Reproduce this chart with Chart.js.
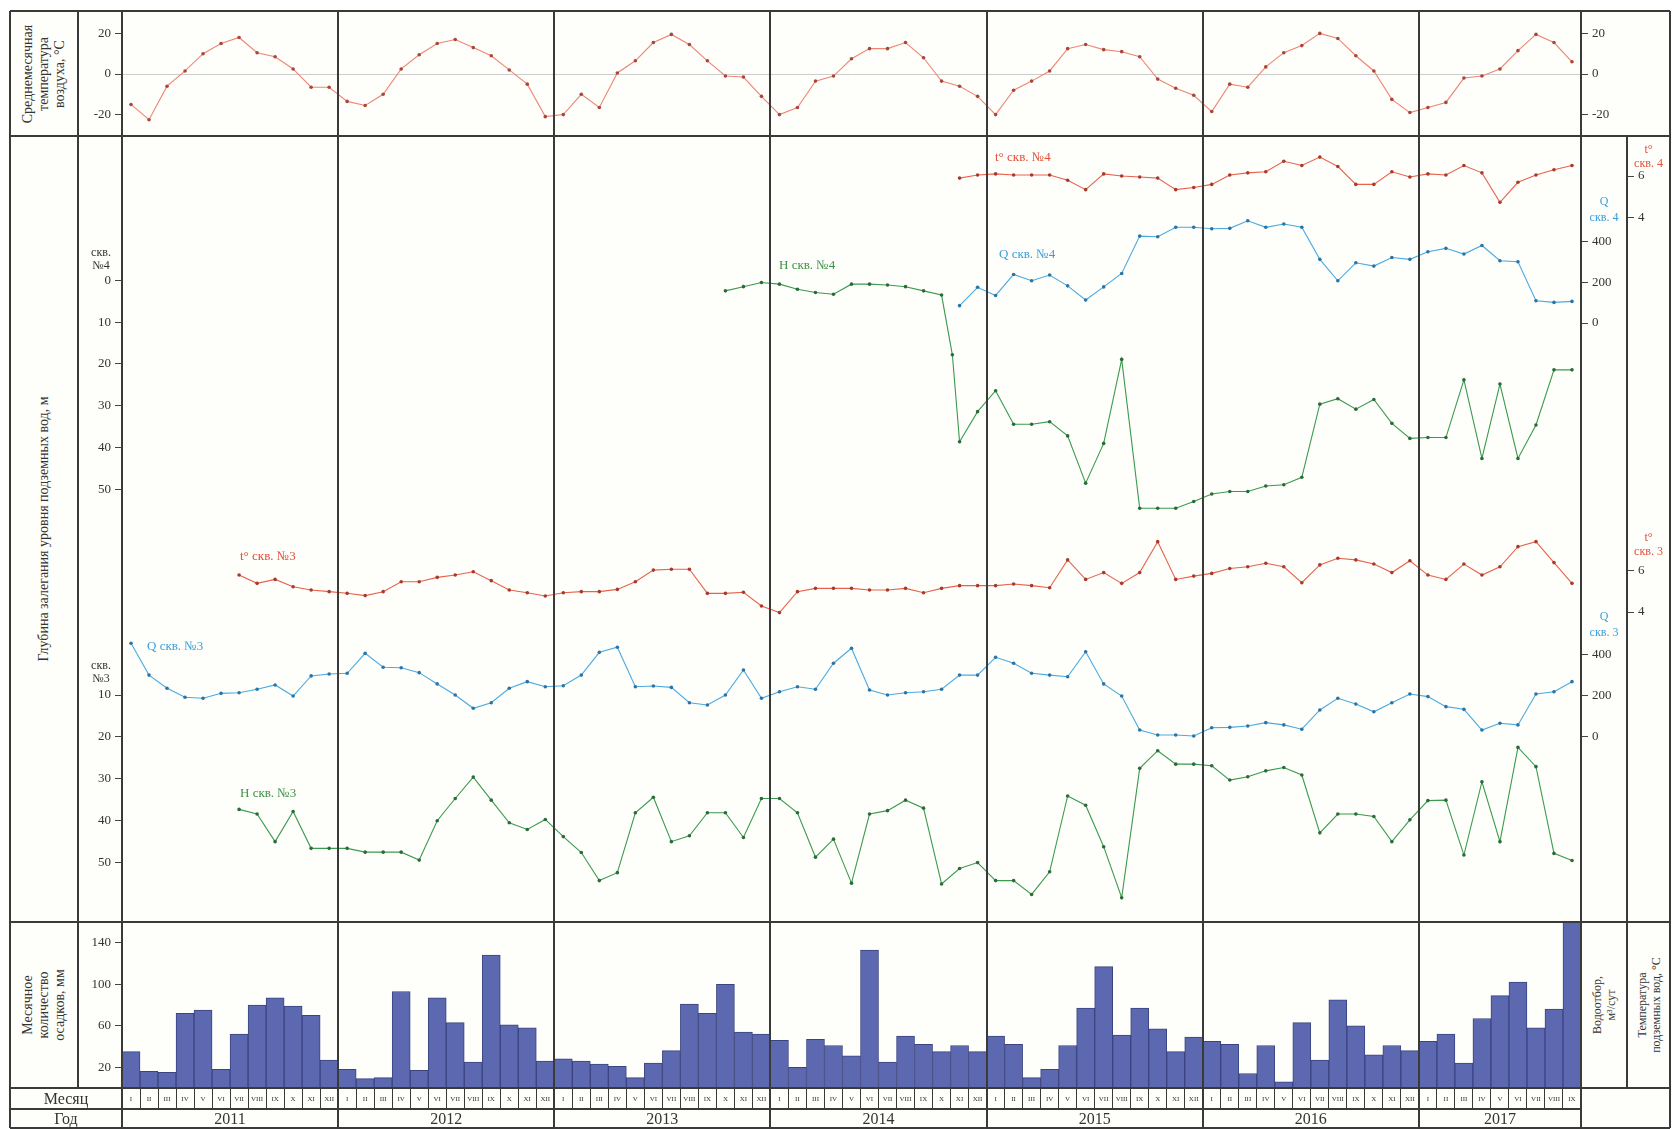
<!DOCTYPE html>
<html lang="ru">
<head>
<meta charset="utf-8">
<title>Режим подземных вод, скв. №3 и №4</title>
<script src="https://cdn.jsdelivr.net/npm/chart.js@4.4.1/dist/chart.umd.min.js"></script>
<style>
  html, body { margin: 0; padding: 0; }
  body { width: 1672px; height: 1129px; position: relative; overflow: hidden; background: #fff;
         font-family: "Liberation Serif", "DejaVu Serif", serif; color: #333; }
  #sheet { position: absolute; left: 10px; top: 11px; width: 1660px; height: 1117px; background: #fefefa; }
  canvas { position: absolute; z-index: 2; }
  .ln { position: absolute; background: #3a3a3a; z-index: 5; }
  .txt { position: absolute; white-space: nowrap; z-index: 6; line-height: 1; }
  .rot { position: absolute; white-space: nowrap; text-align: center; z-index: 6;
         transform: translate(-50%, -50%) rotate(-90deg); }
  .cell { position: absolute; display: flex; align-items: center; justify-content: center; z-index: 6; }
</style>
</head>
<body>
<div id="sheet"></div>
<canvas id="airChart" width="1592" height="125" style="left:78px;top:11px"></canvas>
<canvas id="well4Chart" width="1592" height="389" style="left:78px;top:136px"></canvas>
<canvas id="well3Chart" width="1592" height="397" style="left:78px;top:525px"></canvas>
<canvas id="precipChart" width="1503" height="166" style="left:78px;top:922px"></canvas>
<script>
/* ==========================================================================
   Monthly series 2011-01 .. 2017-09 (81 months), month index 0 = Jan 2011
   ========================================================================== */

const years = ["2011", "2012", "2013", "2014", "2015", "2016", "2017"];
const monthNames = ["I", "II", "III", "IV", "V", "VI", "VII", "VIII", "IX", "X", "XI", "XII"];

// mean monthly air temperature, °C
const airTemp = [
  -15, -22.5, -6, 1.5, 10, 15, 18, 10.5, 8.5, 2.5, -6.5, -6.5,
  -13.5, -15.5, -10, 2.5, 9.5, 15, 17, 13, 9, 2, -5, -21,
  -20, -10, -16.5, 0.5, 6.5, 15.5, 19.5, 14.5, 6.5, -1, -1.5, -11,
  -20, -16.5, -3.5, -1, 7.5, 12.5, 12.5, 15.5, 8, -3.5, -6, -11,
  -20, -8, -3.5, 1.5, 12.5, 14.5, 12, 11, 8.5, -2.5, -7, -10.5,
  -18.5, -5, -6.5, 3.5, 10.5, 14, 20, 17.5, 9, 1.5, -12.5, -19,
  -16.5, -14, -2, -1, 2.5, 11.5, 19.5, 15.5, 6,
];

// monthly precipitation, mm
const precip = [
  35, 16, 15, 72, 75, 18, 52, 80, 87, 79, 70, 27,
  18, 9, 10, 93, 17, 87, 63, 25, 128, 61, 58, 26,
  28, 26, 23, 21, 10, 24, 36, 81, 72, 100, 54, 52,
  46, 20, 47, 41, 31, 133, 25, 50, 42, 35, 41, 35,
  50, 42, 10, 18, 41, 77, 117, 51, 77, 57, 35, 49,
  45, 42, 14, 41, 6, 63, 27, 85, 60, 32, 41, 36,
  45, 52, 24, 67, 89, 102, 58, 76, 160,
];

// well No 4
const t4Start = 46;
const t4 = [5.9, 6.05, 6.1, 6.05, 6.05, 6.05, 5.8, 5.35, 6.1, 6.0, 5.95, 5.9, 5.35, 5.45, 5.6, 6.05, 6.15, 6.2,
  6.7, 6.5, 6.9, 6.45, 5.6, 5.6, 6.2, 5.95, 6.1, 6.05, 6.5, 6.15, 4.75, 5.7, 6.05, 6.3, 6.5];
const q4Start = 46;
const q4 = [85, 175, 135, 238, 207, 235, 182, 113, 177, 243, 426, 423, 469, 469, 462, 464, 501, 469,
  485, 469, 312, 207, 295, 279, 321, 312, 349, 366, 338, 380, 305, 300, 109, 101, 106];
const h4Start = 33;
const h4Before = [2.5, 1.5, 0.5, 0.9, 2.1, 2.9, 3.3, 0.9, 0.9, 1.1, 1.5, 2.5, 3.5];
const h4DropMonth = 45.6;
const h4DropDepth = 17.8;
const h4AfterStart = 46;
const h4After = [38.6, 31.4, 26.4, 34.4, 34.4, 33.8, 37.2, 48.5, 39, 18.9, 54.5, 54.5, 54.5, 52.9, 51.1,
  50.5, 50.5, 49.2, 48.9, 47.1, 29.6, 28.3, 30.8, 28.5, 34.2, 37.8, 37.6, 37.6, 23.8, 42.6, 24.8, 42.6,
  34.6, 21.4, 21.4];

// well No 3
const t3Start = 6;
const t3 = [5.78, 5.38, 5.57, 5.22, 5.06, 4.98, 4.9, 4.79, 4.98, 5.46, 5.46, 5.67, 5.78, 5.94, 5.51, 5.06,
  4.93, 4.77, 4.93, 4.98, 4.98, 5.09, 5.46, 6.02, 6.06, 6.06, 4.9, 4.9, 4.95, 4.29, 3.97, 4.98, 5.14, 5.14,
  5.14, 5.06, 5.06, 5.14, 4.93, 5.14, 5.27, 5.27, 5.27, 5.35, 5.27, 5.17, 6.51, 5.57, 5.9, 5.38, 5.9, 7.39,
  5.57, 5.73, 5.86, 6.1, 6.18, 6.35, 6.18, 5.41, 6.27, 6.59, 6.51, 6.31, 5.9, 6.47, 5.78, 5.57, 6.31, 5.78,
  6.18, 7.15, 7.39, 6.38, 5.38];
const q3Start = 0;
const q3 = [456, 301, 237, 193, 188, 212, 215, 232, 253, 199, 297, 306, 310, 407, 339, 337, 313, 258, 204,
  139, 166, 237, 269, 244, 249, 301, 412, 437, 244, 248, 241, 166, 155, 204, 326, 188, 220, 244, 232, 359,
  432, 228, 204, 215, 220, 232, 301, 301, 388, 359, 310, 301, 293, 415, 258, 199, 33, 9, 9, 4, 44, 46, 53,
  69, 58, 37, 131, 188, 160, 122, 166, 209, 196, 147, 134, 33, 66, 58, 209, 220, 269];
const h3Start = 6;
const h3 = [37.3, 38.4, 45, 37.8, 46.6, 46.6, 46.6, 47.5, 47.5, 47.5, 49.4, 40, 34.7, 29.6, 35.1, 40.5, 42.1,
  39.7, 43.8, 47.6, 54.3, 52.4, 38.1, 34.4, 45, 43.6, 38.1, 38.1, 44, 34.7, 34.7, 38.1, 48.7, 44.4, 54.9,
  38.4, 37.6, 35.1, 37, 55.1, 51.4, 50, 54.3, 54.3, 57.6, 52.2, 34.1, 36.3, 46.2, 58.4, 27.5, 23.3, 26.5,
  26.5, 26.9, 30.3, 29.5, 28.1, 27.3, 29.1, 42.9, 38.4, 38.4, 39, 45, 39.8, 35.2, 35.1, 48.2, 30.7, 45,
  22.5, 27.1, 47.8, 49.5];

// tick labels
const airTicks = [-20, 0, 20];
const depth4Ticks = [0, 10, 20, 30, 40, 50];
const depth3Ticks = [10, 20, 30, 40, 50];
const flowTicks = [0, 200, 400];
const waterTempTicks = [4, 6];
const precipTicks = [20, 60, 100, 140];

/* ---------------- sheet geometry ---------------- */
const X0 = 10, XL = 78, XP = 122, XR = 1581, XC = 1627, X1 = 1670;
const Y0 = 11, YT = 136, YS = 525, YM = 922, YB = 1088, YMO = 1109, Y1 = 1128;
const MONTHS = airTemp.length;
const MW = (XR - XP) / MONTHS;

const RED = "#e8634e", RED_DOT = "#a83a2c", RED_TEXT = "#e0513c";
const BLUE = "#4aabe0", BLUE_DOT = "#2b74a6", BLUE_TEXT = "#3a9fdc";
const GREEN = "#3b9a4f", GREEN_DOT = "#2a6b39", GREEN_TEXT = "#3a9448";
const SERIF = "'Liberation Serif', 'DejaVu Serif', serif";

Chart.defaults.font.family = SERIF;
Chart.defaults.font.size = 13;
Chart.defaults.color = "#333";
Chart.defaults.animation = false;
Chart.defaults.plugins.legend.display = false;
Chart.defaults.plugins.tooltip.enabled = false;

// axis range so that `value` lands at page pixel `at`, with `ppu` pixels per unit
function rangeFor(top, h, value, at, ppu, reversed) {
  if (reversed) {
    const min = value - (at - top) / ppu;
    return { min, max: min + h / ppu };
  }
  const max = value + (at - top) / ppu;
  return { min: max - h / ppu, max };
}

function yAxis(opts) {
  return {
    type: "linear",
    position: opts.position,
    min: opts.range.min,
    max: opts.range.max,
    reverse: !!opts.reverse,
    weight: opts.weight || 0,
    afterBuildTicks: (s) => { s.ticks = opts.ticks.map((v) => ({ value: v })); },
    afterFit: (s) => { s.width = opts.width; s.paddingTop = 0; s.paddingBottom = 0; },
    grid: {
      drawOnChartArea: !!opts.zeroLine,
      color: (ctx) => (opts.zeroLine && ctx.tick && ctx.tick.value === 0 ? "#cdcdcd" : "rgba(0,0,0,0)"),
      tickColor: "#444",
      tickLength: 7,
      lineWidth: 1,
    },
    border: { display: false },
    ticks: { padding: 4, color: "#333", font: { size: 13 }, callback: (v) => String(v) },
  };
}

const monthAxis = { type: "linear", min: -0.5, max: MONTHS - 0.5, display: false };

function series(start, values) {
  return values.map((v, i) => ({ x: start + i, y: v }));
}

function lineSet(points, axisId, line, dot) {
  return {
    data: points, yAxisID: axisId, borderColor: line, borderWidth: 1.1,
    pointRadius: 1.8, pointBackgroundColor: dot, pointBorderWidth: 0, tension: 0,
  };
}

const baseOptions = {
  responsive: false,
  devicePixelRatio: 1,
  layout: { padding: 0, autoPadding: false },
};

/* ---------------- air temperature ---------------- */
new Chart(document.getElementById("airChart"), {
  type: "line",
  data: { datasets: [lineSet(series(0, airTemp), "air", "#ee8675", "#a8463a")] },
  options: {
    ...baseOptions,
    scales: {
      x: monthAxis,
      air: yAxis({ position: "left", range: rangeFor(Y0, YT - Y0, 0, 74, 2.03), ticks: airTicks, width: XP - XL, zeroLine: true }),
      airR: yAxis({ position: "right", range: rangeFor(Y0, YT - Y0, 0, 74, 2.03), ticks: airTicks, width: X1 - XR }),
    },
  },
});

/* ---------------- well No 4 ---------------- */
const h4Points = series(h4Start, h4Before)
  .concat([{ x: h4DropMonth, y: h4DropDepth }])
  .concat(series(h4AfterStart, h4After));

new Chart(document.getElementById("well4Chart"), {
  type: "line",
  data: {
    datasets: [
      lineSet(series(t4Start, t4), "t4", RED, RED_DOT),
      lineSet(series(q4Start, q4), "q4", BLUE, BLUE_DOT),
      lineSet(h4Points, "h4", GREEN, GREEN_DOT),
    ],
  },
  options: {
    ...baseOptions,
    scales: {
      x: monthAxis,
      h4: yAxis({ position: "left", range: rangeFor(YT, YS - YT, 0, 280.4, 4.18, true), reverse: true, ticks: depth4Ticks, width: XP - XL }),
      q4: yAxis({ position: "right", range: rangeFor(YT, YS - YT, 0, 323, 0.204), ticks: flowTicks, width: XC - XR, weight: 0 }),
      t4: yAxis({ position: "right", range: rangeFor(YT, YS - YT, 6, 176, 21), ticks: waterTempTicks, width: X1 - XC, weight: 1 }),
    },
  },
});

/* ---------------- well No 3 ---------------- */
new Chart(document.getElementById("well3Chart"), {
  type: "line",
  data: {
    datasets: [
      lineSet(series(t3Start, t3), "t3", RED, RED_DOT),
      lineSet(series(q3Start, q3), "q3", BLUE, BLUE_DOT),
      lineSet(series(h3Start, h3), "h3", GREEN, GREEN_DOT),
    ],
  },
  options: {
    ...baseOptions,
    scales: {
      x: monthAxis,
      h3: yAxis({ position: "left", range: rangeFor(YS, YM - YS, 0, 653.1, 4.19, true), reverse: true, ticks: depth3Ticks, width: XP - XL }),
      q3: yAxis({ position: "right", range: rangeFor(YS, YM - YS, 0, 736.8, 0.205), ticks: flowTicks, width: XC - XR, weight: 0 }),
      t3: yAxis({ position: "right", range: rangeFor(YS, YM - YS, 6, 570.5, 20.75), ticks: waterTempTicks, width: X1 - XC, weight: 1 }),
    },
  },
});

/* ---------------- precipitation ---------------- */
const monthCats = precip.map((_, i) => monthNames[i % 12] + " " + years[Math.floor(i / 12)]);
new Chart(document.getElementById("precipChart"), {
  type: "bar",
  data: {
    labels: monthCats,
    datasets: [{
      data: precip, yAxisID: "p", backgroundColor: "#5c68b0", borderColor: "#3b4480", borderWidth: 1,
      barPercentage: 1, categoryPercentage: 1,
    }],
  },
  options: {
    ...baseOptions,
    scales: {
      x: { type: "category", display: false, offset: true },
      p: yAxis({ position: "left", range: { min: 0, max: (YB - YM) / 1.0375 }, ticks: precipTicks, width: XP - XL }),
    },
  },
});

/* ---------------- frame, table cells and captions ---------------- */
function line(x, y, w, h) {
  const d = document.createElement("div");
  d.className = "ln";
  Object.assign(d.style, { left: x + "px", top: y + "px", width: w + "px", height: h + "px" });
  document.body.appendChild(d);
}
const hLine = (y, xa, xb, t = 2) => line(xa, y - t / 2, xb - xa, t);
const vLine = (x, ya, yb, t = 2) => line(x - t / 2, ya, t, yb - ya);

[Y0, YT, YM, YB, Y1].forEach((y) => hLine(y, X0, X1));
hLine(YMO, X0, XR);
vLine(X0, Y0, Y1); vLine(X1, Y0, Y1);
vLine(XL, Y0, YB); vLine(XP, Y0, Y1); vLine(XR, Y0, Y1); vLine(XC, YT, YB);
for (let k = 1; k < years.length; k++) vLine(XP + 12 * k * MW, Y0, Y1, 2);
for (let i = 1; i < MONTHS; i++) if (i % 12) vLine(XP + i * MW, YB, YMO, 1);

function text(x, y, html, opts = {}) {
  const d = document.createElement("div");
  d.className = "txt";
  d.innerHTML = html;
  Object.assign(d.style, { left: x + "px", top: y + "px", fontSize: (opts.size || 13) + "px", color: opts.color || "#333" });
  if (opts.center) d.style.transform = "translate(-50%, -50%)";
  if (opts.align) { d.style.textAlign = opts.align; d.style.lineHeight = (opts.lh || 14) + "px"; }
  document.body.appendChild(d);
}
function rotated(cx, cy, lines, size, lh) {
  const d = document.createElement("div");
  d.className = "rot";
  d.innerHTML = lines.join("<br>");
  Object.assign(d.style, { left: cx + "px", top: cy + "px", fontSize: size + "px", lineHeight: lh + "px" });
  document.body.appendChild(d);
}
function cell(x, y, w, h, html, size) {
  const d = document.createElement("div");
  d.className = "cell";
  d.innerHTML = html;
  Object.assign(d.style, { left: x + "px", top: y + "px", width: w + "px", height: h + "px", fontSize: size + "px" });
  document.body.appendChild(d);
}

// left column captions
rotated((X0 + XL) / 2, (Y0 + YT) / 2, ["Среднемесячная", "температура", "воздуха, °С"], 14, 16);
rotated((X0 + XL) / 2, (YT + YM) / 2, ["Глубина залегания уровня подземных вод, м"], 14, 16);
rotated((X0 + XL) / 2, (YM + YB) / 2, ["Месячное", "количество", "осадков, мм"], 14, 16);

// right column captions
rotated((XR + XC) / 2, (YM + YB) / 2, ["Водоотбор,", "м³/сут"], 12, 14);
rotated((XC + X1) / 2, (YM + YB) / 2, ["Температура", "подземных вод, °С"], 12, 14);

// well names on the depth axis
text(101, 259, "скв.<br>№4", { size: 12, center: true, align: "center", lh: 13 });
text(101, 672, "скв.<br>№3", { size: 12, center: true, align: "center", lh: 13 });

// right axis captions
text((XC + X1) / 2, 156, "t°<br>скв. 4", { size: 12, center: true, align: "center", color: RED_TEXT, lh: 14 });
text((XR + XC) / 2, 209, "Q<br>скв. 4", { size: 12, center: true, align: "center", color: BLUE_TEXT, lh: 16 });
text((XC + X1) / 2, 544, "t°<br>скв. 3", { size: 12, center: true, align: "center", color: RED_TEXT, lh: 14 });
text((XR + XC) / 2, 624, "Q<br>скв. 3", { size: 12, center: true, align: "center", color: BLUE_TEXT, lh: 16 });

// series captions
text(995, 150, "t° скв. №4", { size: 13, color: RED_TEXT });
text(999, 247, "Q скв. №4", { size: 13, color: BLUE_TEXT });
text(779, 258, "H скв. №4", { size: 13, color: GREEN_TEXT });
text(240, 549, "t° скв. №3", { size: 13, color: RED_TEXT });
text(147, 639, "Q скв. №3", { size: 13, color: BLUE_TEXT });
text(240, 786, "H скв. №3", { size: 13, color: GREEN_TEXT });

// month / year rows
cell(X0, YB, XP - X0, YMO - YB, "Месяц", 16);
cell(X0, YMO, XP - X0, Y1 - YMO, "Год", 16);
for (let i = 0; i < MONTHS; i++) cell(XP + i * MW, YB, MW, YMO - YB, monthNames[i % 12], 7);
years.forEach((yr, k) => {
  const a = XP + 12 * k * MW;
  const b = Math.min(XR, a + 12 * MW);
  cell(a, YMO, b - a, Y1 - YMO, yr, 16);
});
</script>
</body>
</html>
